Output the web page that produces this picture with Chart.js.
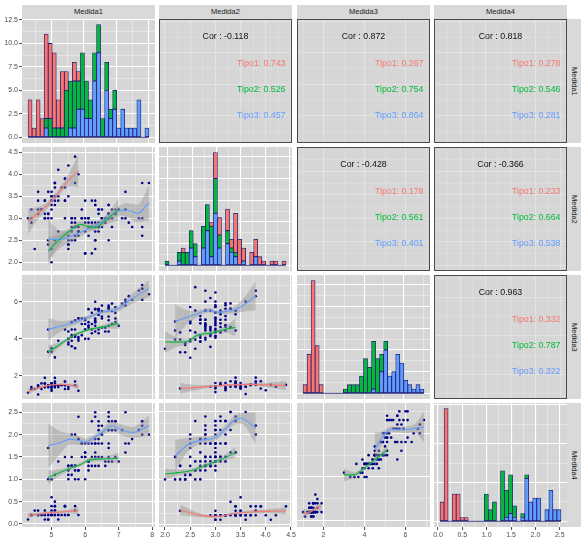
<!DOCTYPE html>
<html>
<head>
<meta charset="utf-8">
<script src="https://cdn.jsdelivr.net/npm/chart.js@4.4.1/dist/chart.umd.min.js"></script>
<style>
	body { margin: 0; width: 585px; height: 543px; position: relative; overflow: hidden; background: #fff; font-family: 'Liberation Sans', Arial, sans-serif; }
	.box { position: absolute; }
	.strip { position: absolute; background: #D9D9D9; color: #1A1A1A; font-size: 7.5px; text-align: center; }
	.strip--top { height: 14px; line-height: 14px; }
	.strip--right { width: 14px; line-height: 14px; writing-mode: vertical-rl; }
</style>
</head>
<body>
<script>
// ***** DATA *****
const medidas = ['Medida1', 'Medida2', 'Medida3', 'Medida4']
const tipos = ['Tipo1', 'Tipo2', 'Tipo3']
// rows are ordered Tipo1, Tipo2, Tipo3
const tipoSizes = [50, 50, 50]

const medida1 = [
	5.1, 4.9, 4.7, 4.6, 5.0, 5.4, 4.6, 5.0, 4.4, 4.9, 5.4, 4.8, 4.8, 4.3, 5.8, 5.7, 5.4, 5.1, 5.7, 5.1, 5.4, 5.1, 4.6, 5.1, 4.8,
	5.0, 5.0, 5.2, 5.2, 4.7, 4.8, 5.4, 5.2, 5.5, 4.9, 5.0, 5.5, 4.9, 4.4, 5.1, 5.0, 4.5, 4.4, 5.0, 5.1, 4.8, 5.1, 4.6, 5.3, 5.0,
	7.0, 6.4, 6.9, 5.5, 6.5, 5.7, 6.3, 4.9, 6.6, 5.2, 5.0, 5.9, 6.0, 6.1, 5.6, 6.7, 5.6, 5.8, 6.2, 5.6, 5.9, 6.1, 6.3, 6.1, 6.4,
	6.6, 6.8, 6.7, 6.0, 5.7, 5.5, 5.5, 5.8, 6.0, 5.4, 6.0, 6.7, 6.3, 5.6, 5.5, 5.5, 6.1, 5.8, 5.0, 5.6, 5.7, 5.7, 6.2, 5.1, 5.7,
	6.3, 5.8, 7.1, 6.3, 6.5, 7.6, 4.9, 7.3, 6.7, 7.2, 6.5, 6.4, 6.8, 5.7, 5.8, 6.4, 6.5, 7.7, 7.7, 6.0, 6.9, 5.6, 7.7, 6.3, 6.7,
	7.2, 6.2, 6.1, 6.4, 7.2, 7.4, 7.9, 6.4, 6.3, 6.1, 7.7, 6.3, 6.4, 6.0, 6.9, 6.7, 6.9, 5.8, 6.8, 6.7, 6.7, 6.3, 6.5, 6.2, 5.9,
]
const medida2 = [
	3.5, 3.0, 3.2, 3.1, 3.6, 3.9, 3.4, 3.4, 2.9, 3.1, 3.7, 3.4, 3.0, 3.0, 4.0, 4.4, 3.9, 3.5, 3.8, 3.8, 3.4, 3.7, 3.6, 3.3, 3.4,
	3.0, 3.4, 3.5, 3.4, 3.2, 3.1, 3.4, 4.1, 4.2, 3.1, 3.2, 3.5, 3.6, 3.0, 3.4, 3.5, 2.3, 3.2, 3.5, 3.8, 3.0, 3.8, 3.2, 3.7, 3.3,
	3.2, 3.2, 3.1, 2.3, 2.8, 2.8, 3.3, 2.4, 2.9, 2.7, 2.0, 3.0, 2.2, 2.9, 2.9, 3.1, 3.0, 2.7, 2.2, 2.5, 3.2, 2.8, 2.5, 2.8, 2.9,
	3.0, 2.8, 3.0, 2.9, 2.6, 2.4, 2.4, 2.7, 2.7, 3.0, 3.4, 3.1, 2.3, 3.0, 2.5, 2.6, 3.0, 2.6, 2.3, 2.7, 3.0, 2.9, 2.9, 2.5, 2.8,
	3.3, 2.7, 3.0, 2.9, 3.0, 3.0, 2.5, 2.9, 2.5, 3.6, 3.2, 2.7, 3.0, 2.5, 2.8, 3.2, 3.0, 3.8, 2.6, 2.2, 3.2, 2.8, 2.8, 2.7, 3.3,
	3.2, 2.8, 3.0, 2.8, 3.0, 2.8, 3.8, 2.8, 2.8, 2.6, 3.0, 3.4, 3.1, 3.0, 3.1, 3.1, 3.1, 2.7, 3.2, 3.3, 3.0, 2.5, 3.0, 3.4, 3.0,
]
const medida3 = [
	1.4, 1.4, 1.3, 1.5, 1.4, 1.7, 1.4, 1.5, 1.4, 1.5, 1.5, 1.6, 1.4, 1.1, 1.2, 1.5, 1.3, 1.4, 1.7, 1.5, 1.7, 1.5, 1.0, 1.7, 1.9,
	1.6, 1.6, 1.5, 1.4, 1.6, 1.6, 1.5, 1.5, 1.4, 1.5, 1.2, 1.3, 1.4, 1.3, 1.5, 1.3, 1.3, 1.3, 1.6, 1.9, 1.4, 1.6, 1.4, 1.5, 1.4,
	4.7, 4.5, 4.9, 4.0, 4.6, 4.5, 4.7, 3.3, 4.6, 3.9, 3.5, 4.2, 4.0, 4.7, 3.6, 4.4, 4.5, 4.1, 4.5, 3.9, 4.8, 4.0, 4.9, 4.7, 4.3,
	4.4, 4.8, 5.0, 4.5, 3.5, 3.8, 3.7, 3.9, 5.1, 4.5, 4.5, 4.7, 4.4, 4.1, 4.0, 4.4, 4.6, 4.0, 3.3, 4.2, 4.2, 4.2, 4.3, 3.0, 4.1,
	6.0, 5.1, 5.9, 5.6, 5.8, 6.6, 4.5, 6.3, 5.8, 6.1, 5.1, 5.3, 5.5, 5.0, 5.1, 5.3, 5.5, 6.7, 6.9, 5.0, 5.7, 4.9, 6.7, 4.9, 5.7,
	6.0, 4.8, 4.9, 5.6, 5.8, 6.1, 6.4, 5.6, 5.1, 5.6, 6.1, 5.6, 5.5, 4.8, 5.4, 5.6, 5.1, 5.1, 5.9, 5.7, 5.2, 5.0, 5.2, 5.4, 5.1,
]
const medida4 = [
	0.2, 0.2, 0.2, 0.2, 0.2, 0.4, 0.3, 0.2, 0.2, 0.1, 0.2, 0.2, 0.1, 0.1, 0.2, 0.4, 0.4, 0.3, 0.3, 0.3, 0.2, 0.4, 0.2, 0.5, 0.2,
	0.2, 0.4, 0.2, 0.2, 0.2, 0.2, 0.4, 0.1, 0.2, 0.2, 0.2, 0.2, 0.1, 0.2, 0.2, 0.3, 0.3, 0.2, 0.6, 0.4, 0.3, 0.2, 0.2, 0.2, 0.2,
	1.4, 1.5, 1.5, 1.3, 1.5, 1.3, 1.6, 1.0, 1.3, 1.4, 1.0, 1.5, 1.0, 1.4, 1.3, 1.4, 1.5, 1.0, 1.5, 1.1, 1.8, 1.3, 1.5, 1.2, 1.3,
	1.4, 1.4, 1.7, 1.5, 1.0, 1.1, 1.0, 1.2, 1.6, 1.5, 1.6, 1.5, 1.3, 1.3, 1.3, 1.2, 1.4, 1.2, 1.0, 1.3, 1.2, 1.3, 1.3, 1.1, 1.3,
	2.5, 1.9, 2.1, 1.8, 2.2, 2.1, 1.7, 1.8, 1.8, 2.5, 2.0, 1.9, 2.1, 2.0, 2.4, 2.3, 1.8, 2.2, 2.3, 1.5, 2.3, 2.0, 2.0, 1.8, 2.1,
	1.8, 1.8, 1.8, 2.1, 1.6, 1.9, 2.0, 2.2, 1.5, 1.4, 2.3, 2.4, 1.8, 1.8, 2.1, 2.4, 2.3, 1.9, 2.3, 2.5, 2.3, 1.9, 2.0, 2.3, 1.8,
]

// correlations, pairs in order 1-2, 1-3, 1-4, 2-3, 2-4, 3-4
const corPairs = [[0, 1], [0, 2], [0, 3], [1, 2], [1, 3], [2, 3]]
const corTotal = [-0.118, 0.872, 0.818, -0.428, -0.366, 0.963]
const corTipo1 = [0.743, 0.267, 0.278, 0.178, 0.233, 0.332]
const corTipo2 = [0.526, 0.754, 0.546, 0.561, 0.664, 0.787]
const corTipo3 = [0.457, 0.864, 0.281, 0.401, 0.538, 0.322]

// tick labels
const ticksM1 = [5, 6, 7, 8]
const labelsM1 = ['5', '6', '7', '8']
const ticksM2 = [2, 2.5, 3, 3.5, 4, 4.5]
const labelsM2 = ['2.0', '2.5', '3.0', '3.5', '4.0', '4.5']
const ticksM3 = [2, 4, 6]
const labelsM3 = ['2', '4', '6']
const ticksM4 = [0, 0.5, 1, 1.5, 2, 2.5]
const labelsM4 = ['0.0', '0.5', '1.0', '1.5', '2.0', '2.5']
const ticksM4Wide = [0, 1, 2]
const countTicks1 = [0, 2.5, 5, 7.5, 10, 12.5]
const countLabels1 = ['0.0', '2.5', '5.0', '7.5', '10.0', '12.5']
const countTicks23 = [0, 5, 10, 15, 20, 25]
const countTicks4 = [0, 10, 20, 30]

// loess fits: [x, fit, half band], one list per Tipo
const smooth21 = [
	[[4.3, 2.93, 0.3], [4.6, 3.12, 0.14], [4.86, 3.28, 0.08], [5.06, 3.45, 0.07], [5.26, 3.63, 0.08], [5.46, 3.83, 0.12], [5.62, 3.95, 0.22], [5.8, 4.08, 0.38]],
	[[4.9, 2.25, 0.33], [5.1, 2.42, 0.18], [5.3, 2.56, 0.1], [5.56, 2.72, 0.08], [5.86, 2.86, 0.07], [6.1, 2.81, 0.07], [6.31, 2.79, 0.08], [6.6, 2.95, 0.1], [6.8, 3.07, 0.16], [7.0, 3.2, 0.26]],
	[[4.9, 2.52, 0.45], [5.26, 2.52, 0.2], [5.6, 2.6, 0.12], [6.01, 2.73, 0.08], [6.36, 2.85, 0.07], [6.66, 3.0, 0.08], [6.96, 3.16, 0.1], [7.26, 3.18, 0.16], [7.56, 3.11, 0.2], [7.9, 3.35, 0.4]],
]
const smooth31 = [
	[[4.3, 1.16, 0.15], [4.5, 1.3, 0.09], [4.76, 1.44, 0.05], [5.06, 1.53, 0.04], [5.3, 1.55, 0.05], [5.5, 1.53, 0.07], [5.8, 1.42, 0.15]],
	[[4.9, 3.31, 0.35], [5.1, 3.52, 0.2], [5.3, 3.76, 0.12], [5.56, 4.08, 0.09], [5.8, 4.3, 0.08], [6.06, 4.47, 0.08], [6.46, 4.62, 0.1], [6.75, 4.72, 0.16], [7.0, 4.83, 0.3]],
	[[4.9, 4.51, 0.6], [5.26, 4.68, 0.3], [5.56, 4.83, 0.18], [6.01, 5.1, 0.12], [6.46, 5.42, 0.1], [6.76, 5.51, 0.12], [6.96, 5.6, 0.15], [7.36, 6.12, 0.25], [7.9, 6.71, 0.45]],
]
const smooth32 = [
	[[2.3, 1.3, 0.3], [2.6, 1.35, 0.15], [2.9, 1.42, 0.07], [3.3, 1.5, 0.05], [3.7, 1.53, 0.07], [4.0, 1.5, 0.12], [4.4, 1.46, 0.25]],
	[[2.0, 3.87, 0.6], [2.2, 3.86, 0.3], [2.45, 3.91, 0.15], [2.65, 4.25, 0.12], [2.91, 4.36, 0.1], [3.1, 4.5, 0.12], [3.25, 4.6, 0.25], [3.4, 4.67, 0.5]],
	[[2.2, 5.0, 0.95], [2.4, 5.2, 0.45], [2.58, 5.37, 0.22], [2.88, 5.62, 0.12], [3.05, 5.51, 0.1], [3.2, 5.55, 0.12], [3.38, 5.64, 0.2], [3.58, 5.95, 0.4], [3.8, 6.42, 0.8]],
]
const smooth41 = [
	[[4.3, 0.2, 0.06], [4.6, 0.22, 0.04], [4.86, 0.25, 0.03], [5.1, 0.26, 0.03], [5.46, 0.28, 0.04], [5.8, 0.3, 0.08]],
	[[4.9, 1.04, 0.15], [5.26, 1.16, 0.07], [5.56, 1.25, 0.05], [5.86, 1.33, 0.04], [6.11, 1.43, 0.05], [6.6, 1.46, 0.06], [7.0, 1.47, 0.12]],
	[[4.9, 1.75, 0.5], [5.26, 1.82, 0.25], [5.56, 1.9, 0.12], [5.8, 1.87, 0.1], [6.01, 1.84, 0.08], [6.26, 1.93, 0.07], [6.46, 2.03, 0.07], [6.81, 2.2, 0.1], [7.1, 2.1, 0.12], [7.41, 2.05, 0.12], [7.9, 2.2, 0.22]],
]
const smooth42 = [
	[[2.3, 0.32, 0.12], [2.65, 0.21, 0.05], [2.98, 0.17, 0.03], [3.38, 0.24, 0.03], [3.78, 0.28, 0.04], [4.1, 0.29, 0.05], [4.4, 0.3, 0.08]],
	[[2.0, 1.12, 0.12], [2.25, 1.15, 0.07], [2.51, 1.19, 0.05], [2.78, 1.3, 0.05], [3.11, 1.44, 0.05], [3.4, 1.6, 0.12]],
	[[2.2, 1.52, 0.36], [2.45, 1.77, 0.15], [2.71, 1.87, 0.08], [2.98, 1.92, 0.07], [3.18, 2.1, 0.08], [3.38, 2.32, 0.1], [3.51, 2.36, 0.12], [3.8, 2.14, 0.35]],
]
const smooth43 = [
	[[1.0, 0.17, 0.1], [1.36, 0.21, 0.04], [1.6, 0.28, 0.04], [1.9, 0.33, 0.1]],
	[[3.0, 1.05, 0.15], [3.49, 1.05, 0.06], [3.98, 1.2, 0.04], [4.48, 1.39, 0.04], [5.1, 1.62, 0.1]],
	[[4.5, 1.62, 0.4], [4.88, 1.92, 0.12], [5.29, 2.09, 0.07], [5.65, 2.08, 0.06], [6.03, 2.08, 0.08], [6.45, 2.11, 0.1], [6.9, 2.14, 0.35]],
]

// ***** LAYOUT / STYLE *****
const colLeft = [22, 159, 297, 434]
const rowTop = [19, 147, 275, 403]
const PANEL_W = 133
const PANEL_H = 124
const PAD = 8
const AXIS_W = 22
const AXIS_H = 16
const PANEL = '#D6D6D6'
const OUTLINE = '#1C1C72'
const POINT = '#00008B'
const BAND = 'rgba(150,150,150,0.45)'
const tipoColors = ['#F8766D', '#00BA38', '#619CFF']
const FONT = "'Liberation Sans', Arial, sans-serif"

const vars = [medida1, medida2, medida3, medida4]
const varTicks = [ticksM1, ticksM2, ticksM3, ticksM4]
const varLabels = [labelsM1, labelsM2, labelsM3, labelsM4]

// scatter panels [row, col] with y limits (band included)
const scatterPanels = [[1, 0], [2, 0], [2, 1], [3, 0], [3, 1], [3, 2]]
const scatterYLim = [[1.8, 4.62], [0.76, 7.44], [0.72, 7.57], [-0.067, 2.708], [-0.06, 2.7], [-0.14, 2.69]]
const scatterSmooth = [smooth21, smooth31, smooth32, smooth41, smooth42, smooth43]

// which tipo each row belongs to
let tipoOf = []
tipoSizes.forEach((n, s) => {
	for (let k = 0; k < n; k++) tipoOf.push(s)
})

function expand(lo, hi) {
	let d = (hi - lo) * 0.05
	return [lo - d, hi + d]
}

let varLim = vars.map((v) => expand(Math.min(...v), Math.max(...v)))

function isOn(list, v) {
	return list.some((m) => Math.abs(m - v) < 1e-9)
}

function minorsOf(majors, lim) {
	let step = majors[1] - majors[0]
	let out = []
	for (let k = -1; majors[0] + (k + 0.5) * step <= lim[1]; k++) {
		let v = majors[0] + (k + 0.5) * step
		if (v >= lim[0]) out.push(v)
	}
	return out
}

// ***** AXES *****
function axis(dir, lim, majors, labels, show, faint, stacked) {
	let all = majors.filter((v) => v >= lim[0] && v <= lim[1]).concat(minorsOf(majors, lim))
	all.sort((a, b) => a - b)
	return {
		type: 'linear',
		min: lim[0],
		max: lim[1],
		offset: false,
		stacked: !!stacked,
		afterBuildTicks: (s) => {
			s.ticks = all.map((v) => ({ value: v }))
		},
		afterFit: (s) => {
			if (dir === 'x') s.height = show ? AXIS_H : 0
			else s.width = show ? AXIS_W : 0
			s.paddingLeft = s.paddingRight = s.paddingTop = s.paddingBottom = 0
		},
		border: { display: false },
		grid: {
			offset: false,
			drawTicks: show,
			tickLength: 3,
			tickWidth: 0.9,
			color: (c) => {
				if (faint) return 'rgba(255,255,255,0.3)'
				return c.tick && isOn(majors, c.tick.value) ? '#FFFFFF' : 'rgba(255,255,255,0.75)'
			},
			lineWidth: (c) => (c.tick && isOn(majors, c.tick.value) ? 1.1 : 0.5),
			tickColor: (c) => (c.tick && isOn(majors, c.tick.value) ? '#333333' : 'rgba(0,0,0,0)'),
		},
		ticks: {
			display: show,
			autoSkip: false,
			maxRotation: 0,
			minRotation: 0,
			padding: 1,
			color: '#4D4D4D',
			font: { family: FONT, size: 7 },
			callback: (v) => {
				let i = majors.findIndex((m) => Math.abs(m - v) < 1e-9)
				return i < 0 ? '' : labels[i]
			},
		},
	}
}

// ***** PLUGINS *****
const panelBg = {
	id: 'panelBg',
	beforeDraw(chart) {
		let a = chart.chartArea
		let ctx = chart.ctx
		ctx.save()
		ctx.fillStyle = PANEL
		ctx.fillRect(a.left, a.top, a.right - a.left, a.bottom - a.top)
		ctx.restore()
	},
}

function corText(p) {
	return {
		id: 'corText',
		afterDraw(chart) {
			let a = chart.chartArea
			let ctx = chart.ctx
			let h = a.bottom - a.top
			ctx.save()
			ctx.strokeStyle = '#4A4A4A'
			ctx.lineWidth = 1
			ctx.strokeRect(a.left + 0.5, a.top + 0.5, a.right - a.left - 1, a.bottom - a.top - 1)
			ctx.font = '8.8px ' + FONT
			ctx.textBaseline = 'middle'
			ctx.textAlign = 'center'
			ctx.fillStyle = '#111111'
			ctx.fillText('Cor : ' + corTotal[p].toFixed(3), (a.left + a.right) / 2, a.top + 0.143 * h)
			let byTipo = [corTipo1, corTipo2, corTipo3]
			let rows = [0.357, 0.568, 0.782]
			ctx.textAlign = 'right'
			tipos.forEach((t, s) => {
				ctx.fillStyle = tipoColors[s]
				ctx.fillText(t + ': ' + byTipo[s][p].toFixed(3), a.right - 6.5, a.top + rows[s] * h)
			})
			ctx.restore()
		},
	}
}

// ***** HISTOGRAM BINS (30 bins, right closed) *****
function histBins(values) {
	let lo = Math.min(...values)
	let hi = Math.max(...values)
	let w = (hi - lo) / 29
	let shift = Math.floor((lo - w / 2) / w)
	let origin = w / 2 + shift * w
	let edges = []
	for (let k = 0; origin + k * w <= hi + (1 - 1e-8) * w; k++) edges.push(origin + k * w)
	let fuzz = 1e-7 * w
	let counts = tipos.map(() => new Array(edges.length - 1).fill(0))
	values.forEach((v, i) => {
		for (let j = 0; j < edges.length - 1; j++) {
			let left = j === 0 ? edges[0] - fuzz : edges[j] + fuzz
			if (v > left && v <= edges[j + 1] + fuzz) {
				counts[tipoOf[i]][j]++
				break
			}
		}
	})
	return { edges, counts }
}

// ***** MOUNT *****
function mount(r, c, config) {
	let extraW = c === 0 ? AXIS_W : 0
	let extraH = r === 3 ? AXIS_H : 0
	let box = document.createElement('div')
	box.className = 'box'
	box.style.left = colLeft[c] - extraW - PAD + 'px'
	box.style.top = rowTop[r] - PAD + 'px'
	box.style.width = PANEL_W + extraW + 2 * PAD + 'px'
	box.style.height = PANEL_H + extraH + 2 * PAD + 'px'
	let canvas = document.createElement('canvas')
	box.appendChild(canvas)
	document.body.appendChild(box)
	return new Chart(canvas, config)
}

function baseOptions(x, y) {
	return {
		responsive: true,
		maintainAspectRatio: false,
		animation: false,
		events: [],
		layout: { padding: PAD },
		plugins: { legend: { display: false }, tooltip: { enabled: false } },
		scales: { x: x, y: y },
	}
}

// ***** DIAGONAL: STACKED HISTOGRAMS *****
const countTicks = [countTicks1, countTicks23, countTicks23, countTicks4]
const countLabels = [countLabels1, countTicks23.map(String), countTicks23.map(String), countTicks4.map(String)]

for (let k = 0; k < 4; k++) {
	let h = histBins(vars[k])
	let e = h.edges
	let n = e.length - 1
	let centers = e.slice(0, n).map((a, j) => (a + e[j + 1]) / 2)
	let totals = centers.map((_, j) => h.counts[0][j] + h.counts[1][j] + h.counts[2][j])
	let xLim = expand(e[0], e[n])
	let yLim = expand(0, Math.max(...totals))

	// Tipo3 at the bottom, Tipo1 on top
	let bars = [2, 1, 0].map((s) => ({
		type: 'bar',
		stack: 'hist',
		data: centers.map((x, j) => ({ x: x, y: h.counts[s][j] })),
		backgroundColor: tipoColors[s],
		borderColor: OUTLINE,
		borderWidth: 0.8,
		borderSkipped: false,
		barPercentage: 1,
		categoryPercentage: 1,
	}))
	bars.push({
		type: 'line',
		stack: 'base',
		data: [{ x: e[0], y: 0 }, { x: e[n], y: 0 }],
		borderColor: OUTLINE,
		borderWidth: 0.8,
		pointRadius: 0,
		fill: false,
	})

	mount(k, k, {
		type: 'bar',
		data: { datasets: bars },
		options: baseOptions(
			axis('x', xLim, varTicks[k], varLabels[k], k === 3, false, true),
			axis('y', yLim, countTicks[k], countLabels[k], k === 0, false, true),
		),
		plugins: [panelBg],
	})
}

// ***** LOWER: SCATTER + LOESS *****
scatterPanels.forEach(([r, c], p) => {
	let fits = scatterSmooth[p]
	let lines = fits.map((f, s) => ({
		type: 'line',
		data: f.map((q) => ({ x: q[0], y: q[1] })),
		borderColor: tipoColors[s],
		borderWidth: 1.1,
		pointRadius: 0,
		fill: false,
		cubicInterpolationMode: 'monotone',
	}))
	let bands = []
	fits.forEach((f) => {
		bands.push({
			type: 'line',
			data: f.map((q) => ({ x: q[0], y: q[1] - q[2] })),
			borderColor: 'rgba(0,0,0,0)',
			borderWidth: 0,
			pointRadius: 0,
			fill: false,
			cubicInterpolationMode: 'monotone',
		})
		bands.push({
			type: 'line',
			data: f.map((q) => ({ x: q[0], y: q[1] + q[2] })),
			borderColor: 'rgba(0,0,0,0)',
			borderWidth: 0,
			pointRadius: 0,
			fill: '-1',
			backgroundColor: BAND,
			cubicInterpolationMode: 'monotone',
		})
	})
	let points = {
		type: 'scatter',
		data: vars[c].map((v, i) => ({ x: v, y: vars[r][i] })),
		pointRadius: 1.3,
		pointBackgroundColor: POINT,
		pointBorderWidth: 0,
		showLine: false,
	}
	let yMajors = p === 5 ? ticksM4Wide : varTicks[r]
	let yLabels = p === 5 ? ticksM4Wide.map(String) : varLabels[r]

	mount(r, c, {
		type: 'scatter',
		data: { datasets: lines.concat(bands, [points]) },
		options: baseOptions(
			axis('x', varLim[c], varTicks[c], varLabels[c], r === 3, false),
			axis('y', scatterYLim[p], yMajors, yLabels, c === 0, false),
		),
		plugins: [panelBg],
	})
})

// ***** UPPER: CORRELATIONS *****
corPairs.forEach(([r, c], p) => {
	mount(r, c, {
		type: 'scatter',
		data: { datasets: [] },
		options: baseOptions(
			axis('x', varLim[c], varTicks[c], varLabels[c], false, true),
			axis('y', varLim[r], varTicks[r], varLabels[r], false, true),
		),
		plugins: [panelBg, corText(p)],
	})
})

// ***** STRIPS *****
medidas.forEach((m, k) => {
	let top = document.createElement('div')
	top.className = 'strip strip--top'
	top.style.left = colLeft[k] + 'px'
	top.style.top = '5px'
	top.style.width = PANEL_W + 'px'
	top.textContent = m
	document.body.appendChild(top)

	let side = document.createElement('div')
	side.className = 'strip strip--right'
	side.style.left = colLeft[3] + PANEL_W + 'px'
	side.style.top = rowTop[k] + 'px'
	side.style.height = PANEL_H + 'px'
	side.textContent = m
	document.body.appendChild(side)
})
</script>
</body>
</html>
